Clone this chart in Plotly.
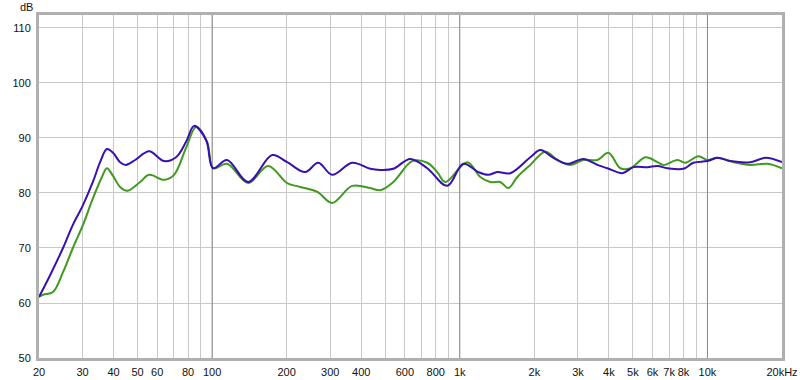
import math
import plotly.graph_objects as go

# ---- data (frequency in Hz, level in dB) ----
blue_f = [20, 22.2, 25.0, 27.4, 30.1, 33.0, 35.3, 37.6, 39.8, 42.5, 44.9, 48.9, 55.7, 64.0, 71.5,
          78.5, 84.6, 94.6, 100.9, 114.9, 139.8, 174.8, 200.9, 237.6, 268.2, 305.4, 367.9, 435,
          477, 539, 631, 739, 890, 1033, 1188, 1303, 1417, 1600, 1926, 2115, 2386, 2719, 3155,
          3594, 3945, 4536, 5024, 5725, 6281, 6894, 7999, 8778, 10000, 10976, 12389, 14917,
          17155, 20000]
blue_db = [61.1, 65.1, 70.0, 74.2, 77.8, 82.0, 85.6, 88.0, 87.3, 85.6, 85.1, 86.0, 87.6, 85.8, 86.5,
           89.3, 92.2, 89.6, 84.5, 86.0, 82.0, 86.9, 85.6, 83.8, 85.5, 83.3, 85.5, 84.4,
           84.2, 84.4, 86.2, 84.5, 81.3, 85.3, 83.8, 83.3, 83.8, 83.6, 86.5, 87.8, 86.4, 85.3, 86.2,
           85.1, 84.5, 83.6, 84.7, 84.7, 84.9, 84.5, 84.4, 85.5, 85.8, 86.4, 85.8, 85.6,
           86.4, 85.6]

green_f = [20, 20.8, 22.8, 25.0, 27.4, 30.1, 32.8, 35.9, 37.6, 39.8, 42.5, 45.4, 51.2, 55.7, 64.0,
           70.2, 78.5, 86.2, 95.5, 100.9, 114.9, 139.8, 168.4, 200.9, 226.8, 265.8, 305.4, 367.9,
           435, 477, 539, 643, 739, 811, 874, 1072, 1210, 1328, 1457, 1570, 1708, 1926, 2216,
           2477, 2796, 3155, 3594, 3982, 4453, 4888, 5620, 6281, 6642, 7566, 8149, 9196, 10000,
           10976, 12739, 14917, 17478, 20000]
green_db = [61.1, 61.5, 62.0, 65.6, 70.0, 74.2, 78.7, 82.9, 84.5, 83.1, 81.1, 80.4, 82.0, 83.3, 82.4,
            83.3, 88.2, 92.0, 89.3, 84.5, 85.3, 81.8, 84.9, 81.8, 81.1, 80.2, 78.2, 81.3,
            80.9, 80.5, 82.0, 85.8, 85.5, 83.8, 82.0, 85.6, 82.9, 82.0, 82.0, 80.9, 82.9, 85.1, 87.5,
            86.0, 85.1, 86.0, 86.0, 87.3, 84.5, 84.5, 86.5, 85.6, 85.1, 86.0, 85.5, 86.7, 86.0,
            86.4, 85.6, 85.1, 85.3, 84.5]

grid_freqs = [30, 40, 50, 60, 70, 80, 90, 100, 200, 300, 400, 500, 600, 700, 800, 900, 1000,
              2000, 3000, 4000, 5000, 6000, 7000, 8000, 9000, 10000, 20000]
label_map = {20: "20", 30: "30", 40: "40", 50: "50", 60: "60", 80: "80", 100: "100",
             200: "200", 300: "300", 400: "400", 600: "600", 800: "800", 1000: "1k",
             2000: "2k", 3000: "3k", 4000: "4k", 5000: "5k", 6000: "6k", 7000: "7k",
             8000: "8k", 10000: "10k", 20000: "20kHz"}
decades = [100, 1000, 10000]
y_ticks = [50, 60, 70, 80, 90, 100, 110]

Y_MIN, Y_MAX = 50, 112.36
X_MIN, X_MAX = 20, 20000

xt = [20] + grid_freqs
xtext = [label_map.get(v, "") for v in xt]

FONT = "Liberation Sans, Arial, sans-serif"

fig = go.Figure()

# darker decade grid lines
dx, dy = [], []
for d in decades:
    dx += [d, d, None]
    dy += [Y_MIN, Y_MAX, None]
fig.add_trace(go.Scatter(x=dx, y=dy, mode="lines", line=dict(color="#8a8a8a", width=1),
                         hoverinfo="skip", showlegend=False))

fig.add_trace(go.Scatter(x=green_f, y=green_db, mode="lines",
                         line=dict(color="#3f9a1e", width=2, shape="spline", smoothing=1.0),
                         showlegend=False))
fig.add_trace(go.Scatter(x=blue_f, y=blue_db, mode="lines",
                         line=dict(color="#3810b0", width=2, shape="spline", smoothing=1.0),
                         showlegend=False))

fig.update_layout(
    width=800, height=380,
    margin=dict(l=39, r=18, t=15, b=22),
    paper_bgcolor="white", plot_bgcolor="white",
    font=dict(family=FONT, size=11, color="#111"),
    xaxis=dict(type="log", range=[math.log10(X_MIN), math.log10(X_MAX)],
               tickmode="array", tickvals=xt, ticktext=xtext, automargin=False,
               showgrid=True, gridcolor="#c8c8c8", gridwidth=1, zeroline=False,
               showline=True, linecolor="#b0b0b0", linewidth=3, mirror=True,
               ticks="outside", ticklen=2, tickcolor="rgba(0,0,0,0)", tickangle=0),
    yaxis=dict(range=[Y_MIN, Y_MAX], tickmode="array", tickvals=y_ticks, automargin=False,
               showgrid=True, gridcolor="#c8c8c8", gridwidth=1, zeroline=False,
               showline=True, linecolor="#b0b0b0", linewidth=3, mirror=True,
               ticks="outside", ticklen=3, tickcolor="rgba(0,0,0,0)"),
    annotations=[dict(text="dB", xref="paper", yref="paper", x=-0.006, y=1.0, xanchor="right",
                      yanchor="bottom", showarrow=False, font=dict(family=FONT, size=11, color="#111"))],
)

fig.write_html("out.html")
